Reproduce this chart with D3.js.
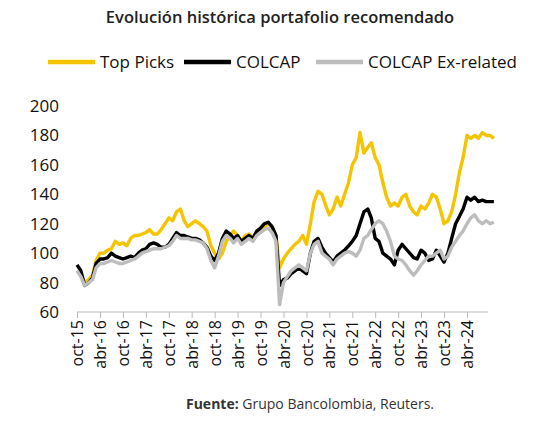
<!DOCTYPE html>
<html><head><meta charset="utf-8">
<script src="https://cdn.jsdelivr.net/npm/d3@7"></script>
<style>body{margin:0;background:#fff;font-family:"Open Sans",sans-serif}</style>
</head><body><svg id="chart"></svg>
<script>
// monthly values, oct-15 .. nov-24
const topPicks = [88,85,80,
  82,85,95,100,100,102,103,108,106,107,105,110,
  112,112,113,114,116,113,113,116,120,124,122,128,
  130,122,118,120,122,120,118,115,105,100,96,100,
  108,112,115,112,108,112,113,110,114,116,118,120,
  118,112,90,96,100,103,106,108,112,106,120,135,
  142,140,133,126,130,138,132,140,148,160,165,182,
  168,172,175,165,160,148,138,132,134,132,138,140,
  132,128,126,132,130,134,140,138,130,120,122,128,
  140,155,165,180,178,180,178,182,180,180,178];
const colcap = [92,88,78,
  80,83,93,96,96,97,100,98,97,96,97,98,
  97,100,102,103,106,107,106,104,104,106,110,114,
  112,112,111,110,110,109,107,104,98,95,100,110,
  115,113,110,112,108,110,112,110,115,117,120,121,
  118,112,78,82,83,86,88,90,88,86,100,108,
  110,104,100,97,94,98,100,102,105,108,112,120,
  128,130,124,110,108,100,98,96,92,102,106,103,
  100,97,96,102,100,95,96,102,98,94,100,110,
  120,125,130,138,136,138,135,136,135,135,135];
const exRelated = [88,84,78,
  80,82,90,93,93,94,95,94,93,93,94,95,
  96,98,100,101,102,103,103,103,104,105,108,112,
  110,110,110,109,109,108,107,103,95,90,98,108,
  112,110,107,110,106,108,110,108,112,114,116,117,
  114,108,65,80,84,88,90,92,90,88,100,106,
  108,100,98,96,92,96,98,100,101,100,98,102,
  110,112,116,120,122,120,115,108,98,96,95,92,
  88,85,88,92,95,98,98,100,102,96,98,104,
  108,112,115,120,124,126,122,120,122,120,121];
const seriesNames = ['Top Picks', 'COLCAP', 'COLCAP Ex-related'];
const seriesColors = ['#F5C400', '#000000', '#BDBDBD'];
const yTicks = [60, 80, 100, 120, 140, 160, 180, 200];
const monthNames = ['ene','feb','mar','abr','may','jun','jul','ago','sep','oct','nov','dic'];

const dates = topPicks.map((d, i) => new Date(2015, 9 + i, 1));
const xTicks = d3.range(18).map(i => new Date(2015, 9 + i * 6, 1));

const svg = d3.select('#chart').attr('width', 558).attr('height', 439);

const x = d3.scaleTime()
  .domain([new Date(2015, 9, 1), new Date(2024, 3, 1)])
  .range([77, 467]);
const y = d3.scaleLinear().domain([60, 200]).range([312, 106]);

svg.append('text').attr('x', 280).attr('y', 23).attr('text-anchor', 'middle')
  .attr('font-size', 16.5).attr('font-weight', 600).attr('fill', '#222')
  .text('Evolución histórica portafolio recomendado');

// legend
const legendX = [48, 184, 316];
seriesNames.forEach((n, i) => {
  svg.append('line').attr('x1', legendX[i]).attr('x2', legendX[i] + 47)
    .attr('y1', 62).attr('y2', 62).attr('stroke', seriesColors[i]).attr('stroke-width', 4.5);
  svg.append('text').attr('x', legendX[i] + 52).attr('y', 68)
    .attr('font-size', 17).attr('font-weight', 500).attr('fill', '#111').text(n);
});

// y labels
svg.append('g').selectAll('text').data(yTicks).join('text')
  .attr('x', 59).attr('y', d => y(d) + 6).attr('text-anchor', 'end')
  .attr('font-size', 17).attr('fill', '#111').text(d => d);

// x axis
const xAxis = d3.axisBottom(x).tickValues(xTicks).tickSize(6).tickSizeOuter(0)
  .tickFormat(d => monthNames[d.getMonth()] + '-' + String(d.getFullYear()).slice(2));
const xg = svg.append('g').attr('transform', 'translate(0,312)').call(xAxis);
xg.select('.domain').attr('stroke', '#bbb').attr('d', 'M77,0H488');
xg.selectAll('.tick line').attr('stroke', '#bbb');
xg.selectAll('.tick text').attr('font-size', 16).attr('fill', '#111')
  .attr('font-family', '"Open Sans",sans-serif')
  .attr('transform', 'rotate(-90)').attr('text-anchor', 'end')
  .attr('x', -8).attr('y', 0).attr('dy', '0.35em');

const line = d3.line().x((d, i) => x(dates[i])).y(d => y(d)).curve(d3.curveLinear);
[topPicks, colcap, exRelated].forEach((s, i) => {
  svg.append('path').datum(s).attr('d', line).attr('fill', 'none')
    .attr('stroke', seriesColors[i]).attr('stroke-width', 3.4).attr('stroke-linejoin', 'round');
});

// source
const src = svg.append('text').attr('x', 310).attr('y', 409).attr('text-anchor', 'middle')
  .attr('font-size', 14).attr('fill', '#333');
src.append('tspan').attr('font-weight', 700).text('Fuente:');
src.append('tspan').text(' Grupo Bancolombia, Reuters.');
</script></body></html>
